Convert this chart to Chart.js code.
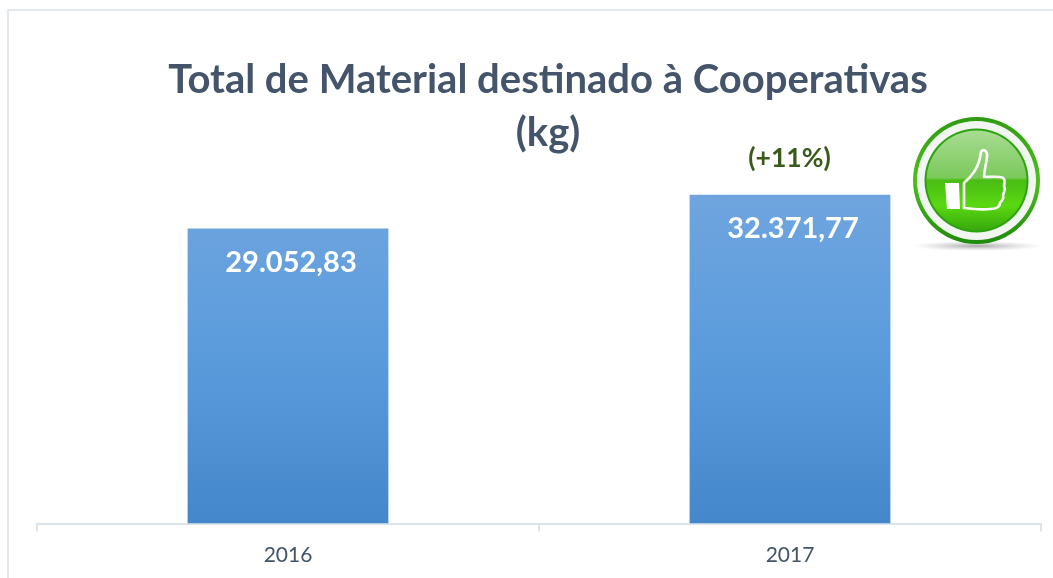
<!DOCTYPE html>
<html><head><meta charset="utf-8">
<style>
html,body{margin:0;padding:0;background:#fff;overflow:hidden}
#wrap{position:relative;width:1053px;height:578px}
#frame{position:absolute;left:7px;top:9px;width:1060px;height:600px;border:2px solid #e2e7ee;box-sizing:border-box}
canvas{position:absolute;left:0;top:0}
#icon{position:absolute;left:900px;top:110px}
</style>
<script src="https://cdn.jsdelivr.net/npm/chart.js@4"></script>
</head><body>
<div id="wrap">
<div id="frame"></div>
<canvas id="c" width="1053" height="578"></canvas>
<svg id="icon" width="153" height="150" viewBox="900 110 153 150" xmlns="http://www.w3.org/2000/svg">
<defs>
<radialGradient id="sh" cx="0.5" cy="0.5" r="0.5"><stop offset="0" stop-color="#8a8a8a" stop-opacity=".75"/><stop offset="1" stop-color="#bbb" stop-opacity="0"/></radialGradient>
<linearGradient id="ring" x1="0" y1="0" x2="0" y2="1"><stop offset="0" stop-color="#2f9a10"/><stop offset=".5" stop-color="#4cc01c"/><stop offset="1" stop-color="#1f8a0c"/></linearGradient>
<linearGradient id="disc" x1="0" y1="0" x2="0" y2="1"><stop offset="0" stop-color="#a8dc92"/><stop offset=".47" stop-color="#7cc95c"/><stop offset=".5" stop-color="#4abd14"/><stop offset=".75" stop-color="#5ad812"/><stop offset="1" stop-color="#38a80c"/></linearGradient>
</defs>
<ellipse cx="977" cy="246" rx="66" ry="5" fill="url(#sh)"/>
<circle cx="976.5" cy="180.5" r="63.5" fill="url(#ring)"/>
<circle cx="976.5" cy="180.5" r="59.5" fill="#f2f6f0"/>
<circle cx="976.5" cy="180.5" r="52" fill="#2ba30e"/>
<circle cx="976.5" cy="180.5" r="50" fill="url(#disc)"/>
<path d="M945 183 H959 L960 209 H947 Z" fill="#fff"/>
<path d="M964 183 C972 176 979 168 981 152 C983 148 988 151 987 157 C986 165 984 172 984 177 C992 177 999 176 1003 178 C1006 180 1004 184 1004 186 C1006 189 1004 192 1003 195 C1004 198 1002 201 1000 203 C1000 208 996 209 990 209 C982 210 972 209 964 208 Z" fill="none" stroke="#fff" stroke-width="2.6" stroke-linejoin="round"/>
</svg>
</div>
<script>
const categories = ['2016', '2017'];
const seriesValues = [29052.83, 32371.77];
const seriesName = 'Total de Material destinado à Cooperativas (kg)';
const titleLines = ['Total de Material destinado à Cooperativas', '(kg)'];
const annotations = ['', '(+11%)'];
const FONT = 'Lato, Carlito, sans-serif';

const fmt = v => v.toLocaleString('pt-BR', {minimumFractionDigits: 2, maximumFractionDigits: 2});

const decor = {
  id: 'decor',
  afterLayout(chart) {
    chart.titleBlock.left += 9;
    chart.titleBlock.right += 9;
  },
  afterDatasetsDraw(chart) {
    const {ctx} = chart;
    const meta = chart.getDatasetMeta(0);
    ctx.save();
    ctx.textAlign = 'center';
    ctx.textBaseline = 'middle';
    meta.data.forEach((bar, i) => {
      ctx.font = 'bold 29px ' + FONT;
      ctx.fillStyle = '#ffffff';
      ctx.fillText(fmt(seriesValues[i]), bar.x + 3, bar.y + 34);
      if (annotations[i]) {
        ctx.font = 'bold 26.5px ' + FONT;
        ctx.fillStyle = '#3a5a1c';
        ctx.fillText(annotations[i], bar.x - 0.5, bar.y - 36);
      }
    });
    ctx.restore();
  }
};

function barGradient(context) {
  const {ctx, chartArea, scales} = context.chart;
  if (!chartArea) return '#5b9bd5';
  const g = ctx.createLinearGradient(0, scales.y.getPixelForValue(seriesValues[1]), 0, chartArea.bottom);
  g.addColorStop(0, '#6fa5df');
  g.addColorStop(0.5, '#5a9bdc');
  g.addColorStop(1, '#4487ca');
  return g;
}

new Chart(document.getElementById('c'), {
  type: 'bar',
  data: {
    labels: categories,
    datasets: [{
      label: seriesName,
      data: seriesValues,
      backgroundColor: barGradient,
      borderWidth: 0,
      barPercentage: 0.4,
      categoryPercentage: 1
    }]
  },
  plugins: [decor],
  options: {
    responsive: false,
    animation: false,
    layout: {padding: {left: 37, right: 12, top: 0, bottom: 0}},
    plugins: {
      legend: {display: false},
      tooltip: {enabled: false},
      title: {
        display: true,
        text: titleLines,
        color: '#44546a',
        font: {family: FONT, size: 40, weight: 'bold', lineHeight: 1.325},
        padding: {top: 54, bottom: 7}
      }
    },
    scales: {
      x: {
        afterFit(s) { s.height = 54.5; },
        grid: {display: true, drawOnChartArea: false, drawTicks: true, tickLength: 8, color: '#dde3eb', lineWidth: 2},
        border: {display: true, color: '#dde3eb', width: 2},
        ticks: {color: '#44546a', font: {family: FONT, size: 21}, padding: 11, maxRotation: 0}
      },
      y: {display: false, min: 0, max: 35100}
    }
  }
});
</script>
</body></html>
